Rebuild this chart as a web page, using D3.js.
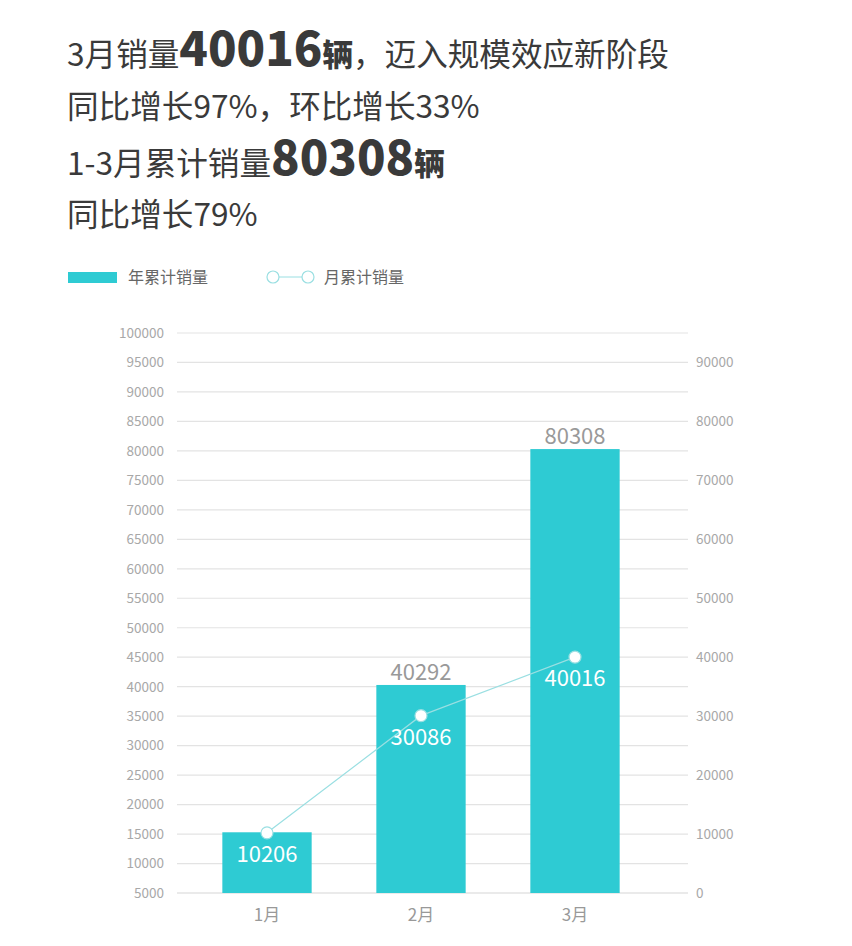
<!DOCTYPE html>
<html>
<head>
<meta charset="utf-8">
<script src="https://cdn.jsdelivr.net/npm/d3@7"></script>
<style>
  html, body { margin: 0; padding: 0; background: #fff; }
  text { font-family: "Noto Sans CJK SC", "Noto Sans", sans-serif; }
</style>
</head>
<body>
<script>
// data
var months = ["1月", "2月", "3月"];
// year-to-date bars (Jan bar is drawn taller in the picture, ~15300 on the left axis)
var yearTotal = [15300, 40292, 80308];
var monthly = [10206, 30086, 40016];
var leftTicks = d3.range(5000, 100001, 5000);
var rightTicks = d3.range(0, 90001, 10000);

var svg = d3.select("body").append("svg")
    .attr("width", 852)
    .attr("height", 946);

// headline
var lines = [
  [["3月销量", 31.6, 400], ["40016", 47, 900], ["辆", 30.5, 900], ["，迈入规模效应新阶段", 31.6, 400]],
  [["同比增长97%，环比增长33%", 31.6, 400]],
  [["1-3月累计销量", 31.6, 400], ["80308", 47, 900], ["辆", 30.5, 900]],
  [["同比增长79%", 31.6, 400]]
];
var baselines = [66, 118, 175, 226];

lines.forEach(function(parts, i) {
  var t = svg.append("text")
      .attr("x", 67)
      .attr("y", baselines[i])
      .style("fill", "#3a3a3a");
  parts.forEach(function(p) {
    t.append("tspan")
      .text(p[0])
      .style("font-size", p[1] + "px")
      .style("font-weight", p[2]);
  });
});

// legend
var teal = "#2ecbd3";
var lineTeal = "#9adfe2";
svg.append("rect")
    .attr("x", 68).attr("y", 272)
    .attr("width", 49).attr("height", 11)
    .style("fill", teal);
svg.append("text")
    .attr("x", 128).attr("y", 283)
    .text("年累计销量")
    .style("font-size", "16px")
    .style("fill", "#666");
svg.append("line")
    .attr("x1", 273).attr("x2", 308)
    .attr("y1", 277).attr("y2", 277)
    .style("stroke", lineTeal);
svg.selectAll("circle.leg")
    .data([273, 308])
    .enter()
    .append("circle")
    .attr("class", "leg")
    .attr("cx", function(d) { return d; })
    .attr("cy", 277)
    .attr("r", 6)
    .style("fill", "#fff")
    .style("stroke", lineTeal)
    .style("stroke-width", 1.2);
svg.append("text")
    .attr("x", 324).attr("y", 283)
    .text("月累计销量")
    .style("font-size", "16px")
    .style("fill", "#666");

// scales
var x = d3.scaleBand()
    .domain(months)
    .range([190, 652])
    .paddingInner(0.42)
    .paddingOuter(0.21);

var yLeft = d3.scaleLinear()
    .domain([5000, 100000])
    .range([893, 333]);

var yRight = d3.scaleLinear()
    .domain([0, 95000])
    .range([893, 333]);

// grid lines
svg.selectAll("line.grid")
    .data(leftTicks)
    .enter()
    .append("line")
    .attr("class", "grid")
    .attr("x1", 177).attr("x2", 688)
    .attr("y1", function(d) { return yLeft(d); })
    .attr("y2", function(d) { return yLeft(d); })
    .style("stroke", function(d) { return d == 5000 ? "#d6d6d6" : "#e3e3e3"; })
    .style("stroke-width", 1.2);

// left axis
var leftAxis = svg.append("g")
    .attr("transform", "translate(164,0)")
    .call(d3.axisLeft(yLeft).tickValues(leftTicks).tickSize(0).tickPadding(0).tickFormat(d3.format("d")));
leftAxis.select(".domain").remove();
leftAxis.selectAll("text")
    .style("font-size", "13.5px")
    .style("fill", "#a8a8a8")
    .style("font-family", "'Noto Sans CJK SC', sans-serif");

// right axis
var rightAxis = svg.append("g")
    .attr("transform", "translate(696,0)")
    .call(d3.axisRight(yRight).tickValues(rightTicks).tickSize(0).tickPadding(0).tickFormat(d3.format("d")));
rightAxis.select(".domain").remove();
rightAxis.selectAll("text")
    .style("font-size", "13.5px")
    .style("fill", "#a8a8a8")
    .style("font-family", "'Noto Sans CJK SC', sans-serif");

// month labels
svg.selectAll("text.month")
    .data(months)
    .enter()
    .append("text")
    .attr("class", "month")
    .attr("x", function(d) { return x(d) + x.bandwidth() / 2; })
    .attr("y", 921)
    .attr("text-anchor", "middle")
    .text(function(d) { return d; })
    .style("font-size", "17px")
    .style("fill", "#999");

// bars
svg.selectAll("rect.bar")
    .data(yearTotal)
    .enter()
    .append("rect")
    .attr("class", "bar")
    .attr("x", function(d, i) { return x(months[i]); })
    .attr("y", function(d) { return yLeft(d); })
    .attr("width", x.bandwidth())
    .attr("height", function(d) { return yLeft(5000) - yLeft(d); })
    .style("fill", teal);

// bar labels (Jan has none in the picture)
svg.selectAll("text.barlabel")
    .data(yearTotal)
    .enter()
    .append("text")
    .attr("class", "barlabel")
    .attr("x", function(d, i) { return x(months[i]) + x.bandwidth() / 2; })
    .attr("y", function(d) { return yLeft(d) - 5; })
    .attr("text-anchor", "middle")
    .attr("display", function(d, i) { return i == 0 ? "none" : null; })
    .text(function(d) { return d; })
    .style("font-size", "22px")
    .style("fill", "#999");

// monthly line
var line = d3.line()
    .x(function(d, i) { return x(months[i]) + x.bandwidth() / 2; })
    .y(function(d) { return yRight(d); });

svg.append("path")
    .datum(monthly)
    .attr("d", line)
    .style("fill", "none")
    .style("stroke", lineTeal)
    .style("stroke-width", 1.2);

svg.selectAll("circle.pt")
    .data(monthly)
    .enter()
    .append("circle")
    .attr("class", "pt")
    .attr("cx", function(d, i) { return x(months[i]) + x.bandwidth() / 2; })
    .attr("cy", function(d) { return yRight(d); })
    .attr("r", 6)
    .style("fill", "#fff")
    .style("stroke", lineTeal)
    .style("stroke-width", 1.2);

svg.selectAll("text.ptlabel")
    .data(monthly)
    .enter()
    .append("text")
    .attr("class", "ptlabel")
    .attr("x", function(d, i) { return x(months[i]) + x.bandwidth() / 2; })
    .attr("y", function(d) { return yRight(d) + 29; })
    .attr("text-anchor", "middle")
    .text(function(d) { return d; })
    .style("font-size", "22px")
    .style("fill", "#fff");
</script>
</body>
</html>
